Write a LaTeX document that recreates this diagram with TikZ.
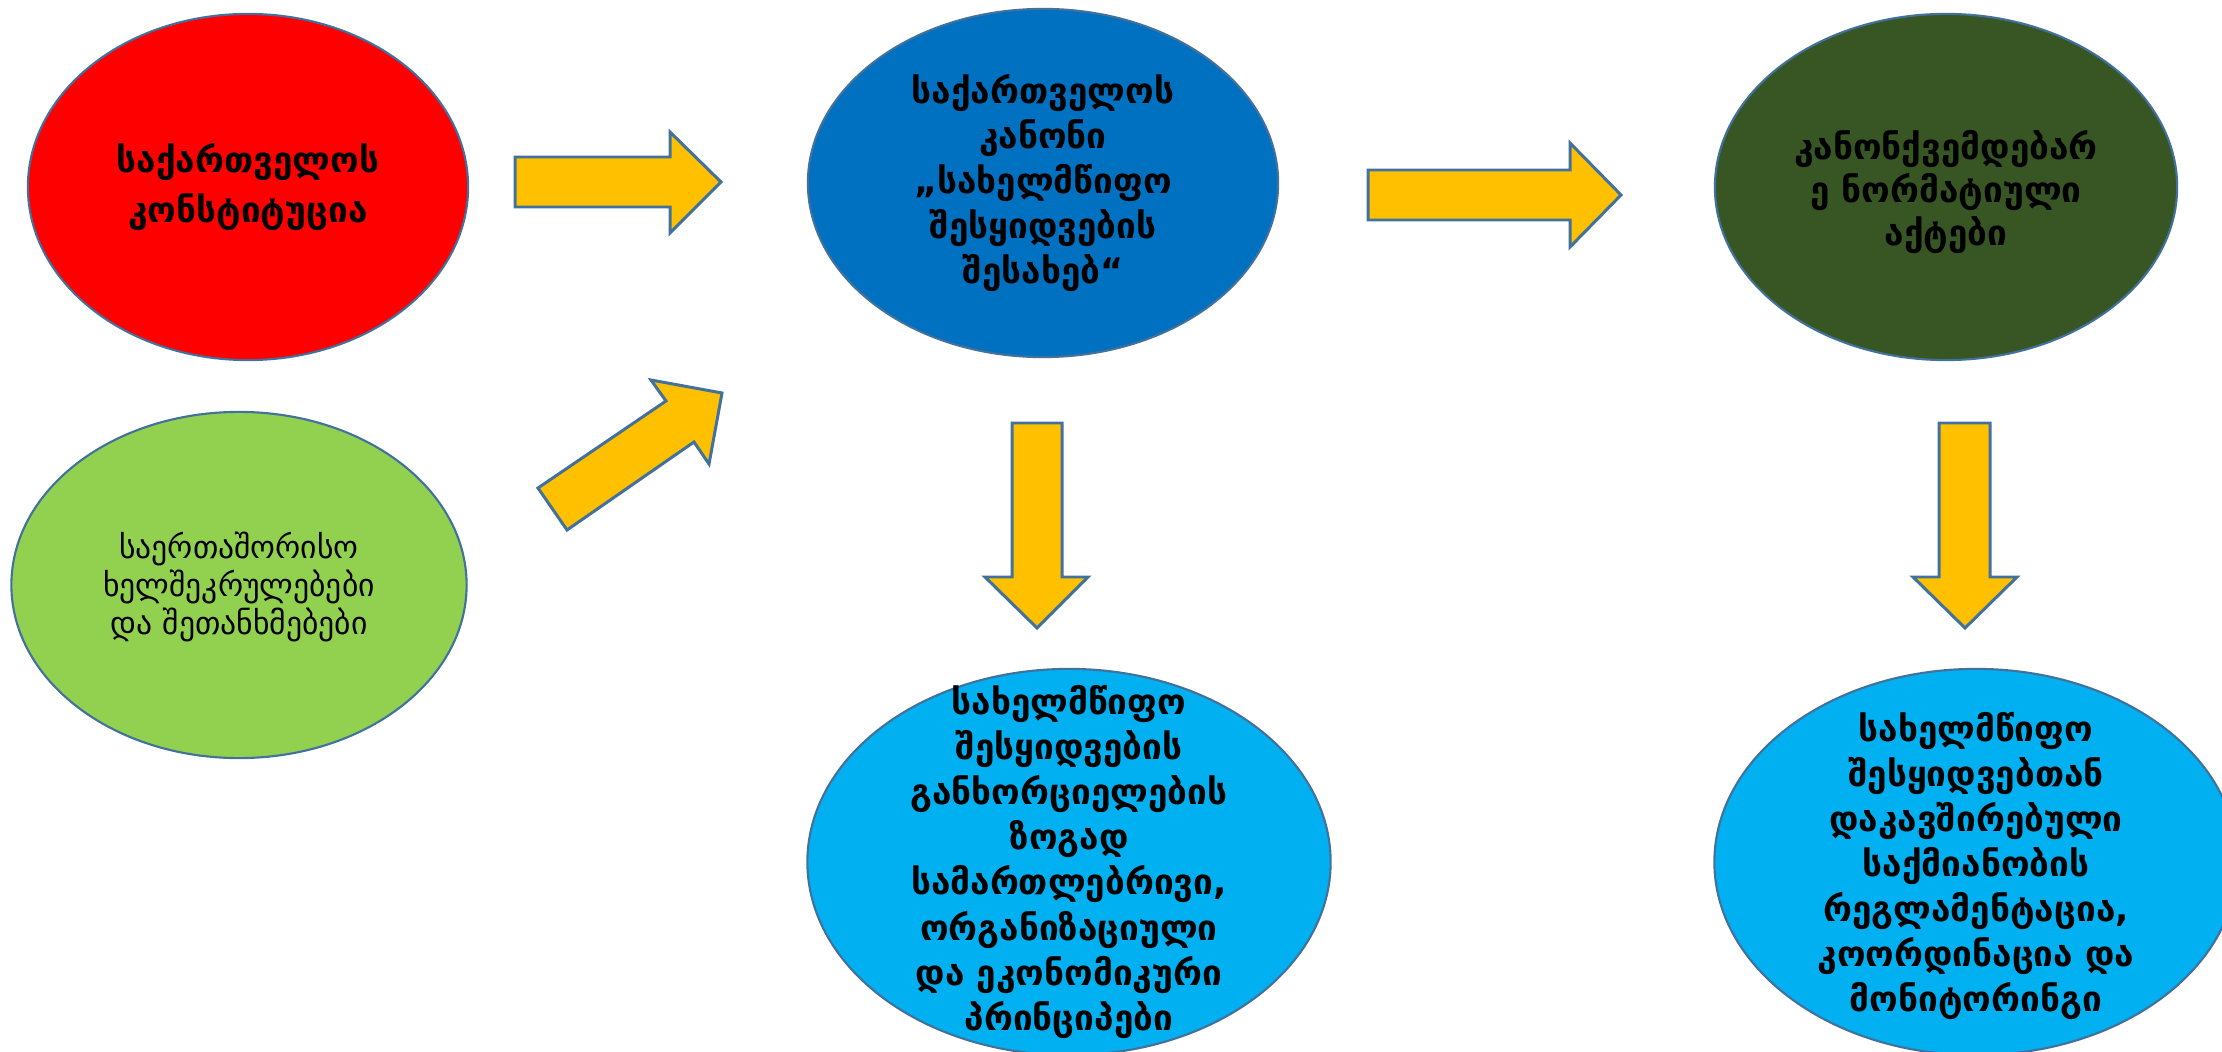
\documentclass[tikz,border=0pt]{standalone}
\usepackage{fontspec}
\setmainfont{DejaVu Sans}
\usetikzlibrary{shapes.geometric}
\definecolor{olblue}{HTML}{41719C}
\definecolor{cred}{HTML}{FF0000}
\definecolor{cblue}{HTML}{0070C0}
\definecolor{cdgreen}{HTML}{375623}
\definecolor{clgreen}{HTML}{92D050}
\definecolor{ccyan}{HTML}{00B0F0}
\definecolor{carrow}{HTML}{FFC000}
\tikzset{
  blob/.style={ellipse, draw=olblue, line width=0.6pt, inner sep=0pt},
  btxt/.style={align=center, font=\bfseries\fontsize{10}{12.8}\selectfont, inner sep=0pt},
  rtxt/.style={align=center, font=\fontsize{9}{10.8}\selectfont, inner sep=0pt},
  blockarrow/.style={fill=carrow, draw=olblue, line width=0.85pt, line join=miter},
}
\begin{document}
\begin{tikzpicture}[x=0.01cm, y=-0.01cm]
\useasboundingbox (0,0) rectangle (2222,1052);
% ellipses
\node[blob, fill=cred, minimum width=4.40cm, minimum height=3.46cm] (e1) at (248,187) {};
\node[blob, fill=cblue, minimum width=4.70cm, minimum height=3.48cm] (e2) at (1043,183) {};
\node[blob, fill=cdgreen, minimum width=4.62cm, minimum height=3.46cm] (e3) at (1946,187) {};
\node[blob, fill=clgreen, minimum width=4.55cm, minimum height=3.46cm] (e4) at (239,585) {};
\node[blob, fill=ccyan, minimum width=5.23cm, minimum height=3.86cm] (e5) at (1069,862) {};
\node[blob, fill=ccyan, minimum width=5.23cm, minimum height=3.86cm] (e6) at (1976,862) {};
% texts
\node[btxt, font=\bfseries\fontsize{10}{14.2}\selectfont] (t1) at (e1.center) {საქართველოს\\კონსტიტუცია};
\node[btxt] (t2) at (e2.center) {საქართველოს\\კანონი\\„სახელმწიფო\\შესყიდვების\\შესახებ“};
\node[btxt, font=\bfseries\fontsize{10}{12.1}\selectfont] (t3) at (1946,192) {კანონქვემდებარ\\ე ნორმატიული\\აქტები};
\node[rtxt] (t4) at (239,587) {საერთაშორისო\\ხელშეკრულებები\\და შეთანხმებები};
\node[btxt] (t5) at (e5.center) {სახელმწიფო\\შესყიდვების\\განხორციელების\\ზოგად\\სამართლებრივი,\\ორგანიზაციული\\და ეკონომიკური\\პრინციპები};
\node[btxt] (t6) at (1976,866) {სახელმწიფო\\შესყიდვებთან\\დაკავშირებული\\საქმიანობის\\რეგლამენტაცია,\\კოორდინაცია და\\მონიტორინგი};
% block arrows
\draw[blockarrow] (515,157) -- (670,157) -- (670,132) -- (721,182) -- (670,233) -- (670,207) -- (515,207) -- cycle;
\draw[blockarrow] (538,488) -- (666,401) -- (651,380) -- (722,393) -- (709,464) -- (694,442) -- (567,530) -- cycle;
\draw[blockarrow] (1368,170) -- (1570,170) -- (1570,143) -- (1621,195) -- (1570,247) -- (1570,220) -- (1368,220) -- cycle;
\draw[blockarrow] (1012,423) -- (1062,423) -- (1062,577) -- (1088,577) -- (1037,628) -- (985,577) -- (1012,577) -- cycle;
\draw[blockarrow] (1939,423) -- (1990,423) -- (1990,577) -- (2017,577) -- (1965,628) -- (1913,577) -- (1939,577) -- cycle;
\end{tikzpicture}
\end{document}
